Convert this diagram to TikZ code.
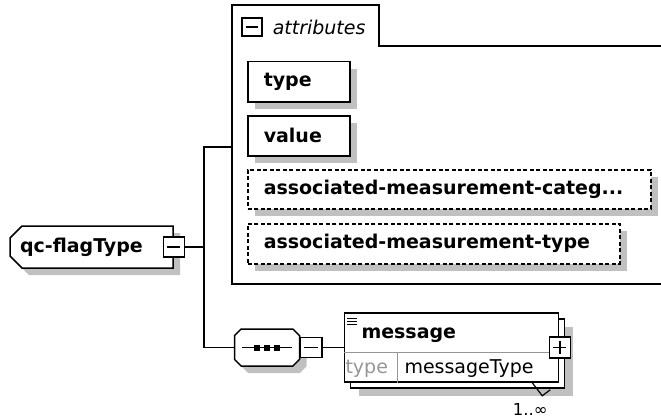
\documentclass[tikz,border=0pt]{standalone}
\usepackage{fontspec}
\usetikzlibrary{shapes.misc, shadows, positioning}
\newfontfamily\dvfont{DejaVu Sans}
\newcommand\bx{\dvfont\bfseries\fontsize{19}{21}\selectfont}
\newcommand\nrm{\dvfont\fontsize{19}{21}\selectfont}
\newcommand\occfont{\dvfont\fontsize{16.5}{18}\selectfont}
\definecolor{shdw}{RGB}{192,192,192}
\definecolor{sepgray}{RGB}{150,150,150}
\hyphenpenalty=10000
\exhyphenpenalty=10000

\begin{document}
\begin{tikzpicture}[x=1pt, y=-1pt, line width=1.5pt,
    shd/.style={drop shadow={shadow xshift=7pt, shadow yshift=-7pt, fill=shdw, opacity=1}},
    elem/.style={chamfered rectangle, chamfered rectangle corners={north west, south west},
                 chamfered rectangle xsep=6pt, chamfered rectangle ysep=6pt,
                 draw, fill=white, shd, font=\bx, inner xsep=4pt, text width=143pt, align=left,
                 minimum height=42pt},
    attr/.style={draw, fill=white, shd, anchor=north west, text width=#1, align=left,
                 inner xsep=16pt, minimum height=40pt, font=\bx},
    optattr/.style={attr=#1, dash pattern=on 4pt off 2.5pt},
    seqbox/.style={chamfered rectangle, chamfered rectangle xsep=10pt, chamfered rectangle ysep=9pt,
                   draw, fill=white, shd, minimum width=65pt, minimum height=37pt,
                   path picture={
                     \draw[black, line width=1.5pt] ([xshift=-25pt]path picture bounding box.center) -- ([xshift=25pt]path picture bounding box.center);
                     \foreach \dx in {-10,0,10}
                       \fill[black] ([xshift=\dx pt]path picture bounding box.center) +(-3pt,-3pt) rectangle +(3pt,3pt);
                   }},
    msgbox/.style={draw, fill=white, minimum width=214pt, minimum height=69pt, inner sep=0pt,
                   drop shadow={shadow xshift=14pt, shadow yshift=-14pt, fill=shdw, opacity=1},
                   copy shadow={shadow xshift=6pt, shadow yshift=-6pt}},
    pmbox/.style={draw, fill=white, minimum width=21pt, minimum height=20pt, inner sep=0pt,
                  path picture={\draw[line width=1.5pt] ([xshift=4pt]path picture bounding box.west) -- ([xshift=-4pt]path picture bounding box.east);}},
    plusbox/.style={pmbox,
                  path picture={\draw[line width=1.5pt] ([xshift=4pt]path picture bounding box.west) -- ([xshift=-4pt]path picture bounding box.east);
                                \draw[line width=1.5pt] ([yshift=-4pt]path picture bounding box.north) -- ([yshift=4pt]path picture bounding box.south);}}
  ]
  \useasboundingbox (0,0) rectangle (661,420);
  \clip (0,0) rectangle (661,420);

  % attributes group
  \draw (232,284) -- (232,5) -- (379,5) -- (379,46) -- (680,46) -- (680,284) -- cycle;
  \node[pmbox, minimum width=20pt, minimum height=18pt] (attrmin) at (252,27) {};
  \node[anchor=west, inner sep=0pt, font=\nrm\itshape] (attrlbl) at (272,27) {attributes};
  \coordinate (attrin) at (232,147);

  \node[attr=70pt] (type) at (247,61) {type};
  \node[attr=70pt] (value) at (247,115) {value};
  \node[optattr=371pt, minimum height=39pt] (mcat) at (247,169) {associated-measurement-categ...};
  \node[optattr=340pt] (mtype) at (247,223) {associated-measurement-type};

  % complex type
  \node[elem] (flag) at (91.5,247) {qc-flagType};
  \node[pmbox] (flagmin) at (flag.east) {};
  \coordinate[right=19pt of flagmin] (fork);

  % sequence
  \node[seqbox] (seq) at (267,347.5) {};
  \node[pmbox, minimum width=22pt, right=-1pt of seq] (seqmin) {};

  % element message
  \node[msgbox, right=21pt of seqmin] (msg) {};
  \node[anchor=base west, inner sep=0pt, font=\bx] (msgname) at ([shift={(17,26)}]msg.north west) {message};
  \foreach \dy in {6,9,12}
    \draw[line width=1pt] ([shift={(3,\dy)}]msg.north west) -- ([shift={(13,\dy)}]msg.north west);
  \draw[sepgray, line width=0.8pt] ([yshift=-40pt]msg.north west) -- ([yshift=-40pt]msg.north east);
  \draw[sepgray, line width=0.8pt] ([shift={(54,40)}]msg.north west) -- ([xshift=54pt]msg.south west);
  \node[anchor=base west, inner sep=0pt, font=\nrm, text=sepgray] (msgtkey) at ([shift={(1,61)}]msg.north west) {type};
  \node[anchor=base west, inner sep=0pt, font=\nrm] (msgtval) at ([shift={(60,61)}]msg.north west) {messageType};
  \node[plusbox, minimum height=21pt] (msgplus) at ([xshift=0.5pt]msg.east) {};
  \draw[line width=1.2pt] ([xshift=-27pt]msg.south east) -- ([shift={(-17,13)}]msg.south east) -- ([shift={(-9,7)}]msg.south east);
  \node[anchor=base, inner sep=0pt, font=\occfont] (occ) at ([shift={(-29,33)}]msg.south east) {1..∞};

  % connectors
  \draw (flagmin) -- (fork);
  \draw (fork) |- (attrin);
  \draw (fork) |- (seq);
  \draw (seqmin) -- (seqmin -| msg.west);
\end{tikzpicture}
\end{document}
